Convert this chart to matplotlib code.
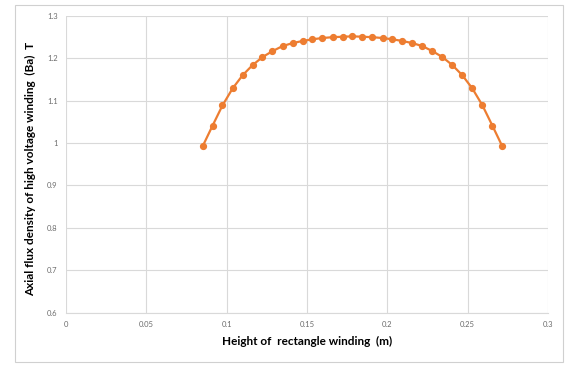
import matplotlib
matplotlib.use("Agg")
import matplotlib.pyplot as plt
from matplotlib.patches import Rectangle

# winding height (m) and axial flux density (T)
height = [0.0850, 0.0912, 0.0974, 0.1037, 0.1099, 0.1161, 0.1223, 0.1285,
          0.1348, 0.1410, 0.1472, 0.1534, 0.1596, 0.1659, 0.1721, 0.1783,
          0.1845, 0.1907, 0.1970, 0.2032, 0.2094, 0.2156, 0.2218, 0.2281,
          0.2343, 0.2405, 0.2467, 0.2529, 0.2592, 0.2654, 0.2716]
flux = [0.992, 1.041, 1.089, 1.129, 1.160, 1.184, 1.203, 1.217,
        1.229, 1.236, 1.241, 1.245, 1.248, 1.250, 1.251, 1.252,
        1.251, 1.250, 1.248, 1.245, 1.241, 1.236, 1.229, 1.217,
        1.203, 1.184, 1.160, 1.129, 1.089, 1.041, 0.992]

x_ticks = [0, 0.05, 0.1, 0.15, 0.2, 0.25, 0.3]
x_labels = ["0", "0.05", "0.1", "0.15", "0.2", "0.25", "0.3"]
y_ticks = [0.6, 0.7, 0.8, 0.9, 1.0, 1.1, 1.2, 1.3]
y_labels = ["0.6", "0.7", "0.8", "0.9", "1", "1.1", "1.2", "1.3"]

plt.rcParams["font.family"] = ["Lato", "DejaVu Sans"]

fig = plt.figure(figsize=(5.7, 3.69), dpi=100)
# outer chart frame
fig.patches.append(Rectangle((15 / 570, 1 - 362 / 369), 548 / 570, 357 / 369,
                             transform=fig.transFigure, fill=False,
                             edgecolor="#d0d0d0", linewidth=0.8))

ax = fig.add_axes([66 / 570, 1 - 312.5 / 369, 482 / 570, 296.5 / 369])
ax.plot(height, flux, color="#ED7D31", linewidth=1.6, marker="o",
        markersize=4.2, zorder=3)

ax.set_xlim(0, 0.3)
ax.set_ylim(0.6, 1.3)
ax.set_xticks(x_ticks)
ax.set_xticklabels(x_labels)
ax.set_yticks(y_ticks)
ax.set_yticklabels(y_labels)
ax.tick_params(length=0, labelsize=5.5, labelcolor="#6b6b6b", pad=6)
ax.grid(True, color="#d9d9d9", linewidth=0.8)
ax.set_axisbelow(True)
for side in ["left", "right", "top"]:
    ax.spines[side].set_visible(False)
ax.spines["bottom"].set_color("#d9d9d9")

ax.set_xlabel("Height of  rectangle winding  (m)", fontsize=8.5,
              fontweight="bold", labelpad=6)
ax.set_ylabel("Axial flux density of high voltage winding  (Ba)  T",
              fontsize=8.5, fontweight="bold", va="center")
ax.yaxis.set_label_coords(-0.0726, 0.484)

fig.savefig("out.png", dpi=100)
